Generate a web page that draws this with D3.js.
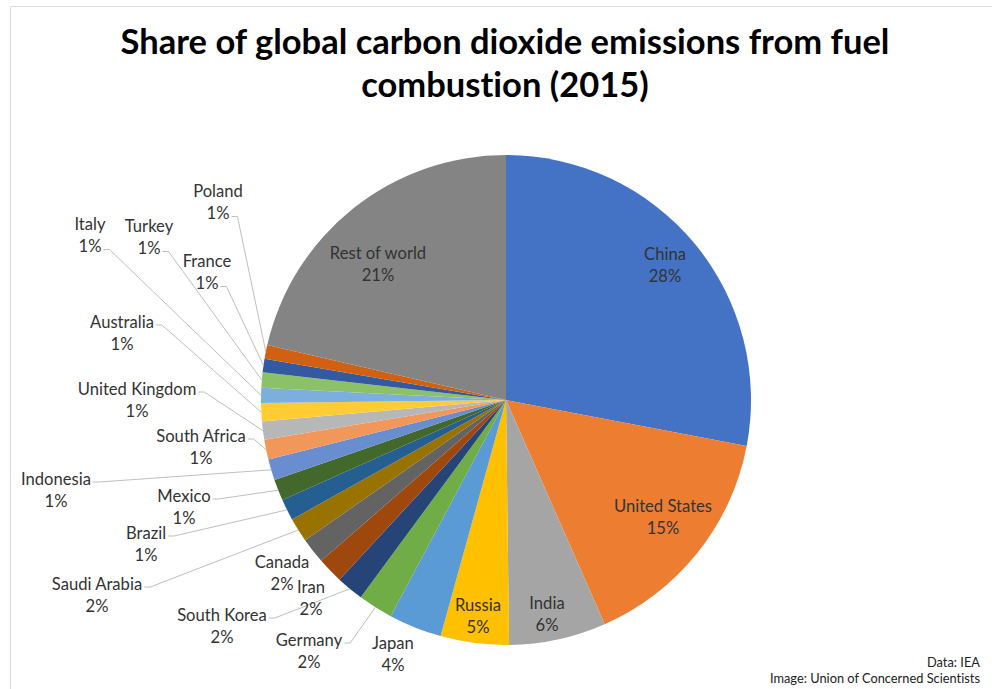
<!DOCTYPE html>
<html>
<head>
<meta charset="utf-8">
<script src="https://cdn.jsdelivr.net/npm/d3@7"></script>
<style>
  body { margin: 0; background: #fff; }
  text { font-family: Lato, "Open Sans", sans-serif; font-variant-ligatures: none; letter-spacing: 0.01px; }
</style>
</head>
<body>
<script>
// data: share of global CO2 from fuel combustion, 2015 (IEA)
var countries = ["China", "United States", "India", "Russia", "Japan", "Germany", "South Korea", "Iran",
    "Canada", "Saudi Arabia", "Brazil", "Mexico", "Indonesia", "South Africa", "United Kingdom",
    "Australia", "Italy", "Turkey", "France", "Poland", "Rest of world"];
var shares = [28.0, 15.4, 6.4, 4.5, 3.5, 2.3, 1.8, 1.7, 1.7, 1.6, 1.4, 1.4, 1.4, 1.3, 1.2,
    1.2, 1.0, 1.0, 0.9, 0.9, 21.4];
var sliceColors = ["#4472c4", "#ed7d31", "#a5a5a5", "#ffc000", "#5b9bd5", "#70ad47", "#264478", "#9e480e",
    "#636363", "#997300", "#255e91", "#43682b", "#698ed0", "#f1975a", "#b7b7b7",
    "#ffcd33", "#7cafdd", "#8cc168", "#335aa1", "#d26012", "#848484"];
var titleLines = ["Share of global carbon dioxide emissions from fuel", "combustion (2015)"];
var creditLines = ["Data: IEA", "Image: Union of Concerned Scientists"];

// label placement (centre of the name line), and which line the leader starts from
var labelPlace = {
    "China": [665, 254], "United States": [663, 506], "India": [547, 603], "Russia": [478, 605],
    "Japan": [393, 643], "Germany": [309, 640], "South Korea": [222, 615], "Iran": [311, 587],
    "Canada": [282, 562], "Saudi Arabia": [97, 584], "Brazil": [146, 533], "Mexico": [184, 496],
    "Indonesia": [56, 479], "South Africa": [201, 436], "United Kingdom": [137, 389],
    "Australia": [122, 322], "Italy": [90, 224], "Turkey": [149, 226], "France": [207, 261],
    "Poland": [218, 191], "Rest of world": [378, 253]
};
var leaderFrom = {
    "Poland": 1, "Italy": 1, "Turkey": 1, "France": 1, "Australia": 0, "United Kingdom": 0,
    "South Africa": 0, "Indonesia": 0, "Mexico": 0, "Brazil": 0, "Saudi Arabia": 0,
    "South Korea": 0, "Germany": 0
};

var svg_width = 992, svg_height = 689;
var cx = 506, cy = 400, radius = 245;
var line_gap = 22.5;

var svg = d3.select('body').append('svg').attr('width', svg_width).attr('height', svg_height);

// faint frame from the source screenshot
svg.append('path').attr('d', 'M10.5,' + svg_height + 'V6.5H' + svg_width)
    .attr('fill', 'none').attr('stroke', '#dcdcdc').attr('stroke-width', 1);

// title
svg.append('g').selectAll('text').data(titleLines).enter().append('text')
    .attr('x', 505).attr('y', (d, i) => 54 + i * 43)
    .attr('text-anchor', 'middle').attr('font-size', 34.5).attr('font-weight', 'bold')
    .attr('fill', '#000').text(d => d);

var data = countries.map((c, i) => ({name: c, share: shares[i], color: sliceColors[i]}));

var pie = d3.pie().sort(null).value(d => d.share);
var arc = d3.arc().innerRadius(0).outerRadius(radius);
var arcs = pie(data);

var g = svg.append('g').attr('transform', 'translate(' + cx + ',' + cy + ')');
g.selectAll('path').data(arcs).enter().append('path')
    .attr('d', arc).attr('fill', d => d.data.color);

// labels
var labels = svg.append('g').selectAll('g').data(arcs).enter().append('g');
labels.each(function(d) {
    var p = labelPlace[d.data.name];
    var sel = d3.select(this);
    var lines = [d.data.name, Math.round(d.data.share) + '%'];
    var texts = sel.selectAll('text').data(lines).enter().append('text')
        .attr('x', p[0]).attr('y', (t, i) => p[1] + i * line_gap).attr('dy', '0.36em')
        .attr('text-anchor', 'middle').attr('font-size', 16.6).attr('fill', '#333')
        .text(t => t);
    var from = leaderFrom[d.data.name];
    if (from === undefined) return;
    var w = texts.nodes()[from].getComputedTextLength();
    var x0 = p[0] + w / 2 + 2, y0 = p[1] + from * line_gap + 3;
    var mid = (d.startAngle + d.endAngle) / 2;
    var ex = cx + radius * Math.sin(mid), ey = cy - radius * Math.cos(mid);
    sel.insert('path', 'text')
        .attr('d', d3.line()([[x0, y0], [x0 + 6, y0], [ex, ey]]))
        .attr('fill', 'none').attr('stroke', '#bfbfbf').attr('stroke-width', 1);
});

// credits
svg.append('g').selectAll('text').data(creditLines).enter().append('text')
    .attr('x', 980).attr('y', (d, i) => 667 + i * 16)
    .attr('text-anchor', 'end').attr('font-size', 12.8).attr('fill', '#222').text(d => d);
</script>
</body>
</html>
